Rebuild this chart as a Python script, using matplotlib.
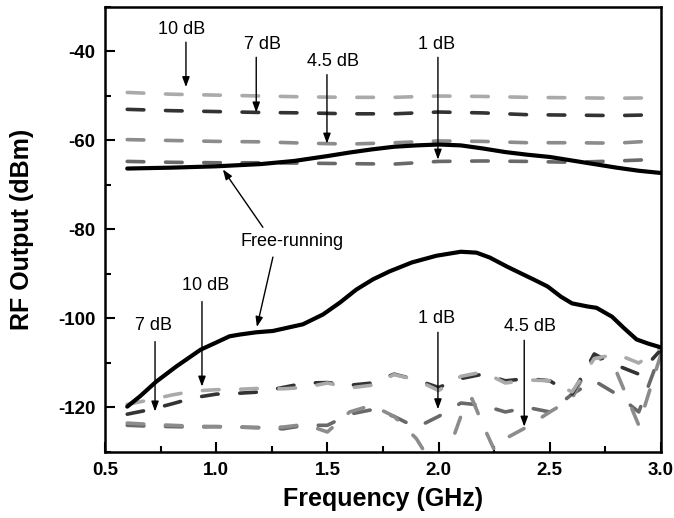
import numpy as np
import matplotlib
matplotlib.use("Agg")
import matplotlib.pyplot as plt
from matplotlib.ticker import MultipleLocator

plt.rcParams['font.family'] = ['Liberation Sans', 'DejaVu Sans']
plt.rcParams['axes.unicode_minus'] = False

# ---- data ----
# upper group: injection-locked output and free-running carrier
f_top = [0.6, 0.8, 1.0, 1.2, 1.4, 1.6, 1.8, 2.0, 2.2, 2.4, 2.6, 2.8, 3.0]
top_10dB = [-49.2, -49.6, -49.8, -50.0, -50.2, -50.3, -50.3, -50.0, -50.1, -50.3, -50.4, -50.5, -50.4]
top_7dB = [-53.0, -53.3, -53.5, -53.7, -53.8, -54.0, -54.0, -53.6, -53.8, -54.2, -54.3, -54.4, -54.2]
top_4p5dB = [-59.8, -60.0, -60.2, -60.3, -60.6, -60.8, -60.5, -60.1, -60.2, -60.5, -60.5, -60.6, -60.0]
top_1dB = [-64.7, -64.9, -65.0, -65.0, -65.1, -65.2, -65.3, -64.7, -64.6, -64.7, -64.9, -64.6, -64.2]

f_free_top = [0.6, 0.8, 1.0, 1.2, 1.35, 1.5, 1.6, 1.7, 1.8, 1.9, 2.0, 2.1, 2.2, 2.3,
              2.4, 2.5, 2.6, 2.7, 2.8, 2.9, 3.0]
free_top = [-66.3, -66.1, -65.8, -65.3, -64.6, -63.5, -62.7, -62.0, -61.4, -61.1, -60.9,
            -61.1, -61.8, -62.6, -63.2, -63.7, -64.5, -65.3, -66.1, -66.8, -67.3]

# lower group: spurious tone
f_free_low = [0.6, 0.657, 0.73, 0.82, 0.93, 1.0, 1.06, 1.107, 1.18, 1.255, 1.39, 1.48,
              1.557, 1.63, 1.705, 1.78, 1.88, 1.99, 2.1, 2.17, 2.23, 2.31, 2.38, 2.43,
              2.49, 2.55, 2.6, 2.67, 2.71, 2.78, 2.83, 2.89, 2.94, 3.0]
free_low = [-119.8, -117.5, -114.2, -110.8, -107.0, -105.4, -104.0, -103.6, -103.1, -102.8,
            -101.3, -99.1, -96.4, -93.5, -91.2, -89.4, -87.4, -85.9, -85.0, -85.2, -86.3,
            -88.4, -90.1, -91.3, -92.8, -95.1, -96.6, -97.3, -97.6, -99.6, -102.0, -104.7,
            -105.6, -106.5]

f_low = [0.6, 0.7, 0.8, 0.9, 1.0, 1.1, 1.2, 1.3, 1.4, 1.5, 1.6, 1.7, 1.8, 1.9, 2.0,
         2.1, 2.2, 2.3, 2.4, 2.5, 2.6, 2.7, 2.8, 2.9, 3.0]
low_10dB = [-119.3, -118.3, -117.2, -116.3, -116.0, -115.9, -115.7, -115.8, -115.5, -114.5,
            -115.6, -115.0, -112.6, -113.8, -116.2, -113.0, -112.0, -114.5, -113.8, -114.0,
            -116.5, -109.0, -108.0, -110.0, -106.5]
low_7dB = [-121.5, -120.5, -119.2, -117.8, -117.0, -116.8, -116.5, -115.5, -114.5, -114.4,
           -115.0, -114.5, -112.5, -113.8, -115.5, -113.5, -112.5, -114.0, -113.5, -114.0,
           -117.0, -108.0, -110.5, -112.5, -107.0]
f_low45 = [0.6, 0.7, 0.8, 0.9, 1.0, 1.1, 1.2, 1.3, 1.4, 1.5, 1.6, 1.7, 1.8, 1.9, 1.95,
           2.0, 2.05, 2.1, 2.15, 2.2, 2.25, 2.3, 2.4, 2.5, 2.6, 2.7, 2.8, 2.9, 3.0]
low_4p5dB = [-123.5, -123.8, -124.0, -124.2, -124.3, -124.4, -124.6, -124.4, -123.8, -125.5,
             -121.0, -119.5, -122.0, -127.0, -131.0, -133.0, -129.0, -122.0, -118.0, -124.0,
             -129.5, -127.0, -124.3, -121.0, -118.0, -108.0, -112.0, -124.0, -108.0]
low_1dB = [-124.0, -124.2, -124.3, -124.4, -124.3, -124.4, -124.5, -124.8, -124.0, -124.0,
           -121.5, -120.5, -122.0, -124.5, -122.0, -119.0, -119.5, -121.0, -120.0, -121.0,
           -117.0, -114.0, -117.0, -121.0, -107.5]

c_10, c_7, c_45, c_1 = '#aaaaaa', '#333333', '#8c8c8c', '#696969'

fig = plt.figure(figsize=(6.74, 5.18), dpi=100)
ax = fig.add_axes([105/674, 1-452/518, 556/674, 445/518])

dash = dict(lw=2.6, dashes=(4.6, 6.0), dash_capstyle='round')
ax.plot(f_low, low_1dB, color=c_1, **dash)
ax.plot(f_low45, low_4p5dB, color=c_45, **dash)
ax.plot(f_low, low_7dB, color=c_7, **dash)
ax.plot(f_low, low_10dB, color=c_10, **dash)

ax.plot(f_top, top_10dB, color=c_10, **dash)
ax.plot(f_top, top_7dB, color=c_7, **dash)
ax.plot(f_top, top_4p5dB, color=c_45, **dash)
ax.plot(f_top, top_1dB, color=c_1, **dash)

solid = dict(color='k', lw=3, solid_joinstyle='round', solid_capstyle='round')
ax.plot(f_free_top, free_top, **solid)
ax.plot(f_free_low, free_low, **solid)

# annotations: label, text position, arrow start, arrow tip
labels = [
    ("10 dB", (0.846, -35.1), (0.864, -37.9), (0.864, -48.0)),
    ("7 dB", (1.21, -38.4), (1.18, -41.3), (1.18, -53.7)),
    ("4.5 dB", (1.525, -42.2), (1.498, -45.2), (1.498, -60.7)),
    ("1 dB", (1.993, -38.4), (1.997, -41.3), (1.997, -64.3)),
    ("10 dB", (0.954, -92.6), (0.936, -96.2), (0.936, -115.3)),
    ("7 dB", (0.716, -101.6), (0.725, -105.2), (0.725, -120.9)),
    ("1 dB", (1.993, -100.0), (1.997, -103.1), (1.997, -120.4)),
    ("4.5 dB", (2.41, -101.8), (2.385, -104.9), (2.385, -124.3)),
]
prop = dict(arrowstyle="-|>,head_width=0.22,head_length=0.6", lw=1, color='k',
            shrinkA=0, shrinkB=0)
for txt, tpos, a0, a1 in labels:
    ax.text(tpos[0], tpos[1], txt, fontsize=13, ha='center', va='center')
    ax.annotate("", xy=a1, xytext=a0, arrowprops=prop)

ax.text(1.34, -82.7, "Free-running", fontsize=13, ha='center', va='center')
ax.annotate("", xy=(1.03, -66.5), xytext=(1.21, -79.5), arrowprops=prop)
ax.annotate("", xy=(1.183, -101.9), xytext=(1.255, -86.2), arrowprops=prop)

ax.set_xlim(0.5, 3.0)
ax.set_ylim(-130, -30)
ax.xaxis.set_major_locator(MultipleLocator(0.5))
ax.xaxis.set_minor_locator(MultipleLocator(0.25))
ax.yaxis.set_minor_locator(MultipleLocator(10))
ax.set_yticks([-40, -60, -80, -100, -120])
ax.tick_params(which='both', direction='in', width=1.5, labelsize=13.5, pad=7)
ax.tick_params(which='major', length=7)
ax.tick_params(which='minor', length=4)
for lab in ax.get_xticklabels() + ax.get_yticklabels():
    lab.set_fontweight('bold')
for s in ax.spines.values():
    s.set_linewidth(1.8)

ax.set_xlabel("Frequency (GHz)", fontsize=18, fontweight='bold')
ax.set_ylabel("RF Output (dBm)", fontsize=18, fontweight='bold')
ax.xaxis.set_label_coords(0.5, -0.078)
ax.yaxis.set_label_coords(-0.128, 0.5)

fig.savefig("out.png", dpi=100)
